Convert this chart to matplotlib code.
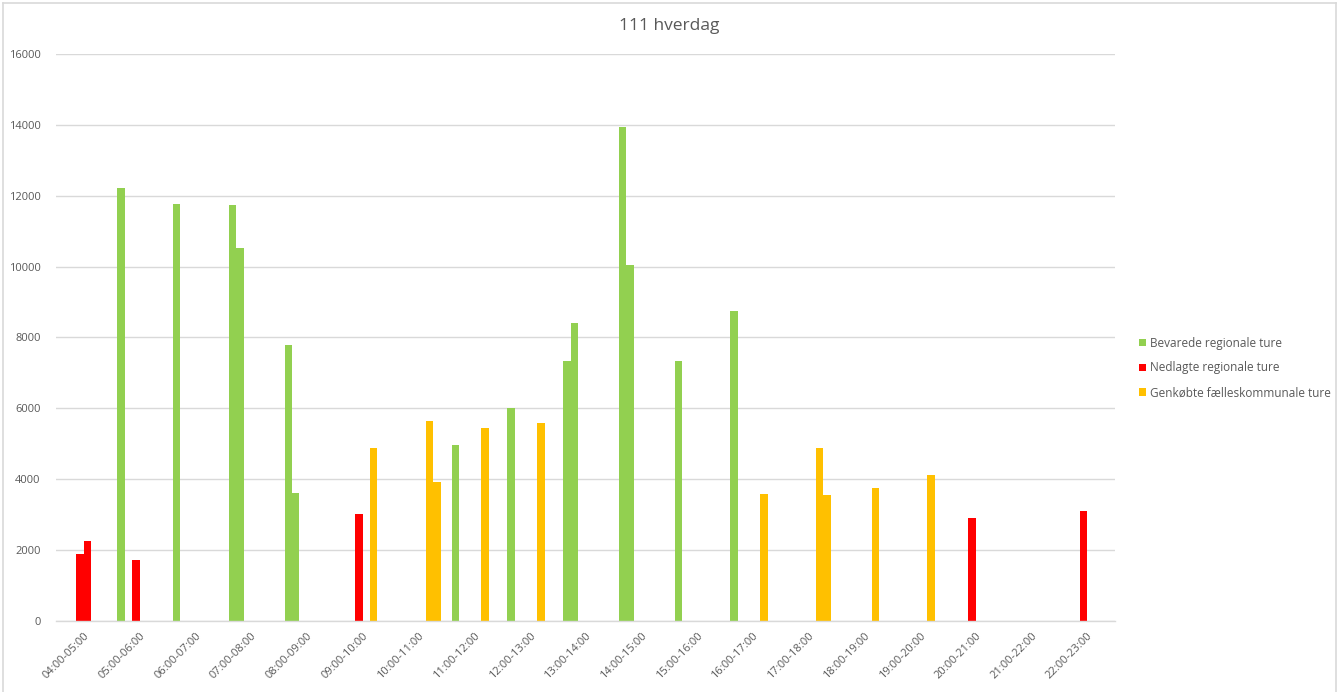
import numpy as np
import matplotlib.pyplot as plt
from matplotlib.patches import Rectangle, Patch

plt.rcParams['font.family'] = ['Open Sans', 'DejaVu Sans']

hours = ['04:00-05:00', '05:00-06:00', '06:00-07:00', '07:00-08:00', '08:00-09:00',
         '09:00-10:00', '10:00-11:00', '11:00-12:00', '12:00-13:00', '13:00-14:00',
         '14:00-15:00', '15:00-16:00', '16:00-17:00', '17:00-18:00', '18:00-19:00',
         '19:00-20:00', '20:00-21:00', '21:00-22:00', '22:00-23:00']

nan = np.nan
# two series per trip type (one per direction)
bevarede_1 = [nan, 12220, 11780, 11750, 7800, nan, nan, 4980, 6020, 7330,
              13950, 7350, 8760, nan, nan, nan, nan, nan, nan]
bevarede_2 = [nan, nan, nan, 10530, 3610, nan, nan, nan, nan, 8400,
              10050, nan, nan, nan, nan, nan, nan, nan, nan]
nedlagte_1 = [1900, 1720, nan, nan, nan, 3030, nan, nan, nan, nan,
              nan, nan, nan, nan, nan, nan, 2910, nan, 3090]
nedlagte_2 = [2270, nan, nan, nan, nan, nan, nan, nan, nan, nan,
              nan, nan, nan, nan, nan, nan, nan, nan, nan]
genkobte_1 = [nan, nan, nan, nan, nan, 4890, 5630, 5440, 5600, nan,
              nan, nan, 3580, 4890, 3760, 4130, nan, nan, nan]
genkobte_2 = [nan, nan, nan, nan, nan, nan, 3910, nan, nan, nan,
              nan, nan, nan, 3550, nan, nan, nan, nan, nan]

series = [bevarede_1, bevarede_2, nedlagte_1, nedlagte_2, genkobte_1, genkobte_2]
green, red, yellow = '#92D050', '#FF0000', '#FFC000'
colors = [green, green, red, red, yellow, yellow]
labels = ['Bevarede regionale ture', 'Nedlagte regionale ture',
          'Genkøbte fælleskommunale ture']

fig = plt.figure(figsize=(13.4, 6.92), dpi=100)
ax = fig.add_axes([56 / 1340, 71 / 692, 1059 / 1340, 567 / 692])

x = np.arange(len(hours))
w = 0.8 / len(series)
for j, (vals, c) in enumerate(zip(series, colors)):
    ax.bar(x + (j - 2.5) * w, vals, width=w, color=c, linewidth=0, zorder=2)

ax.set_xlim(-0.5, len(hours) - 0.5)
ax.set_ylim(0, 16000)
ax.set_yticks(np.arange(0, 16001, 2000))
ax.set_xticks(x)
ax.set_xticklabels(hours, rotation=45, ha='right', rotation_mode='anchor')
ax.tick_params(axis='both', length=0, labelsize=8, labelcolor='#595959')
ax.tick_params(axis='x', pad=7)
ax.tick_params(axis='y', pad=11)
ax.grid(axis='y', color='#d9d9d9', linewidth=1, zorder=0)
ax.set_axisbelow(True)
for s in ['top', 'right', 'left']:
    ax.spines[s].set_visible(False)
ax.spines['bottom'].set_color('#d9d9d9')
ax.spines['bottom'].set_linewidth(1)

fig.text(669 / 1340, 1 - 26 / 692, '111 hverdag', ha='center', va='center',
         fontsize=12.5, color='#595959')

handles = [Patch(facecolor=c) for c in (green, red, yellow)]
ax.legend(handles, labels, loc='center left',
          bbox_to_anchor=(1128 / 1340, 1 - 368 / 692), bbox_transform=fig.transFigure,
          frameon=False, fontsize=8.5, labelcolor='#595959',
          handlelength=0.6, handleheight=0.6, handletextpad=0.35, labelspacing=1.0)

# chart frame, right edge clips the legend
fig.add_artist(Rectangle((1336 / 1340, 0), 4 / 1340, 1, transform=fig.transFigure,
                         facecolor='white', edgecolor='none', zorder=5))
fig.add_artist(plt.Line2D([2.5 / 1340, 2.5 / 1340], [0, 1 - 2.5 / 692],
                          transform=fig.transFigure, color='#d9d9d9', lw=1.2, zorder=6))
fig.add_artist(plt.Line2D([2.5 / 1340, 1336 / 1340], [1 - 2.5 / 692, 1 - 2.5 / 692],
                          transform=fig.transFigure, color='#d9d9d9', lw=1.2, zorder=6))
fig.add_artist(plt.Line2D([1336 / 1340, 1336 / 1340], [0, 1 - 2.5 / 692],
                          transform=fig.transFigure, color='#d9d9d9', lw=1.2, zorder=6))

fig.savefig('out.png', dpi=100)
